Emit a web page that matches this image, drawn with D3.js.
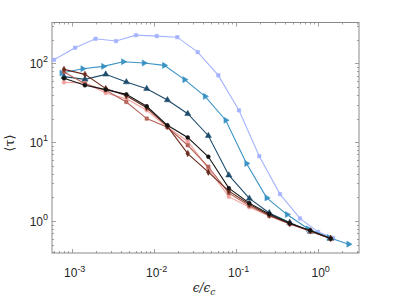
<!DOCTYPE html>
<html>
<head>
<meta charset="utf-8">
<script src="https://cdn.jsdelivr.net/npm/d3@7"></script>
<style>
    body { margin: 0; background: #fff; }
    svg { display: block; font-family: "Liberation Sans", Arial, sans-serif; }
</style>
</head>
<body>
<svg id="chart" width="397" height="297"></svg>
<script>
// x grids (epsilon / epsilon_c)
const xGrid = [8.05e-4, 1.45e-3, 2.60e-3, 4.64e-3, 8.22e-3, 0.0147, 0.0260, 0.0464, 0.0824, 0.1466, 0.257, 0.456, 0.813, 1.44]
const xLight = [6.08e-4, 1.10e-3, 1.95e-3, 3.47e-3, 6.08e-3, 0.0109, 0.0194, 0.0344, 0.0614, 0.1096, 0.194, 0.347, 0.608, 1.01, 1.54]
const xMid = [7.55e-4, 1.36e-3, 2.43e-3, 4.25e-3, 7.61e-3, 0.01346, 0.0238, 0.0423, 0.0755, 0.1355, 0.239, 0.423, 0.762, 1.37, 2.38]

// <tau> values
const tauLight = [111, 158, 205, 192, 228, 222, 215, 139, 70.5, 25.4, 6.65, 2.2, 1.08, 0.73, 0.61]
const tauMid = [75.4, 85.7, 91.6, 105, 101, 94.3, 62.2, 38.2, 19, 5.37, 1.97, 1.21, 0.80, 0.62, 0.51]
const tauTeal = [68, 62.7, 72.6, 58, 47.8, 34.3, 23, 12.1, 3.82, 1.94, 1.27, 0.957, 0.736, 0.60]
const tauBlack = [64.6, 52.7, 46.5, 40.5, 28.6, 16.4, 11.5, 6.55, 2.62, 1.69, 1.23, 0.94, 0.76, 0.60]
const tauDarkBrown = [84.0, 72.6, 47.9, 38.8, 27.4, 15.9, 7.19, 4.17, 2.40, 1.64, 1.19, 0.93, 0.75, 0.60]
const tauBrown = [78.0, 55.3, 45.5, 32.4, 19.95, 15.5, 9.16, 4.89, 2.26, 1.57, 1.17, 0.92, 0.75, 0.60]
const tauPink = [57.5, 56.3, 42.1, 35.5, 25.4, 15.5, 10.3, 4.62, 2.04, 1.50, 1.16, 0.92, 0.74, 0.60]

const xTicks = [1e-3, 1e-2, 1e-1, 1]
const yTicks = [1, 10, 100]

const series = [
    { x: xLight, y: tauLight, color: '#a4b3ff', marker: 'square' },
    { x: xMid, y: tauMid, color: '#3b93c4', marker: 'right' },
    { x: xGrid, y: tauTeal, color: '#1f4d6c', marker: 'up' },
    { x: xGrid, y: tauPink, color: '#f2a49e', marker: 'circle' },
    { x: xGrid, y: tauBrown, color: '#b5645a', marker: 'square' },
    { x: xGrid, y: tauDarkBrown, color: '#6a2c1e', marker: 'diamond' },
    { x: xGrid, y: tauBlack, color: '#141414', marker: 'circle' }
]

const box = { left: 52, right: 359, top: 22.5, bottom: 253 }
const svg = d3.select('#chart')

const x = d3.scaleLog().domain([5.75e-4, 3.19]).range([box.left, box.right])
const y = d3.scaleLog().domain([0.394, 330]).range([box.bottom, box.top])

const axisColor = '#8a8a8a'
const textColor = '#262626'

// minor ticks
const minorOf = domain => {
    const out = []
    for (let e = -4; e <= 3; e++) {
        for (let m = 1; m < 10; m++) {
            const v = m * Math.pow(10, e)
            if (v >= domain[0] && v <= domain[1]) out.push(v)
        }
    }
    return out
}

const g = svg.append('g')

// ticks along four sides, pointing inward
minorOf(x.domain()).forEach(v => {
    const major = xTicks.includes(v)
    const len = major ? 4 : 2
    const px = Math.round(x(v)) + 0.5
    g.append('line').attr('x1', px).attr('x2', px).attr('y1', box.bottom).attr('y2', box.bottom - len)
        .attr('stroke', axisColor).attr('stroke-width', 0.8)
    g.append('line').attr('x1', px).attr('x2', px).attr('y1', box.top).attr('y2', box.top + len)
        .attr('stroke', axisColor).attr('stroke-width', 0.8)
})
minorOf(y.domain()).forEach(v => {
    const major = yTicks.includes(v)
    const len = major ? 4 : 2
    const py = Math.round(y(v)) + 0.5
    g.append('line').attr('x1', box.left).attr('x2', box.left + len).attr('y1', py).attr('y2', py)
        .attr('stroke', axisColor).attr('stroke-width', 0.8)
    g.append('line').attr('x1', box.right).attr('x2', box.right - len).attr('y1', py).attr('y2', py)
        .attr('stroke', axisColor).attr('stroke-width', 0.8)
})

g.append('rect')
    .attr('x', box.left).attr('y', box.top)
    .attr('width', box.right - box.left).attr('height', box.bottom - box.top)
    .attr('fill', 'none').attr('stroke', axisColor).attr('stroke-width', 1)

// tick labels with superscript exponents
const expLabel = (sel, v) => {
    const e = Math.round(Math.log10(v))
    sel.append('tspan').text('10')
    sel.append('tspan').attr('dy', -5.5).attr('font-size', 9).text(String(e))
}

xTicks.forEach(v => {
    const t = g.append('text')
        .attr('x', x(v) + 3).attr('y', 277)
        .attr('text-anchor', 'middle')
        .attr('font-size', 12).attr('fill', textColor)
    expLabel(t, v)
})
yTicks.forEach(v => {
    const t = g.append('text')
        .attr('x', 48).attr('y', y(v) + 4.5)
        .attr('text-anchor', 'end')
        .attr('font-size', 12).attr('fill', textColor)
    expLabel(t, v)
})

// axis titles
const xl = g.append('text')
    .attr('x', 204).attr('y', 292)
    .attr('text-anchor', 'middle')
    .attr('font-size', 12).attr('fill', textColor)
    .attr('font-family', '"DejaVu Serif", serif').attr('font-style', 'italic')
xl.append('tspan').text('ϵ/ϵ')
xl.append('tspan').attr('dy', 3).attr('font-size', 9).text('c')

g.append('text')
    .attr('transform', 'translate(14,143) rotate(-90)')
    .attr('text-anchor', 'middle')
    .attr('font-size', 13).attr('fill', textColor)
    .attr('font-family', '"DejaVu Serif", serif')
    .text('⟨τ⟩')

// series
const line = d3.line().x(d => x(d[0])).y(d => y(d[1]))

const symbolFor = {
    square: d3.symbol().type(d3.symbolSquare).size(12),
    circle: d3.symbol().type(d3.symbolCircle).size(12),
    diamond: d3.symbol().type(d3.symbolDiamond).size(12),
    up: d3.symbol().type(d3.symbolTriangle).size(16),
    right: d3.symbol().type(d3.symbolTriangle).size(16)
}

series.forEach(s => {
    const pts = s.x.map((xv, i) => [xv, s.y[i]])
    const sg = g.append('g')
    sg.append('path')
        .attr('d', line(pts))
        .attr('fill', 'none')
        .attr('stroke', s.color)
        .attr('stroke-width', 1.1)
    sg.selectAll('path.m')
        .data(pts)
        .join('path')
        .attr('class', 'm')
        .attr('d', symbolFor[s.marker])
        .attr('transform', d => `translate(${x(d[0])},${y(d[1])})` + (s.marker === 'right' ? ' rotate(90)' : ''))
        .attr('fill', s.color)
        .attr('stroke', s.color)
        .attr('stroke-width', 0.5)
})
</script>
</body>
</html>
